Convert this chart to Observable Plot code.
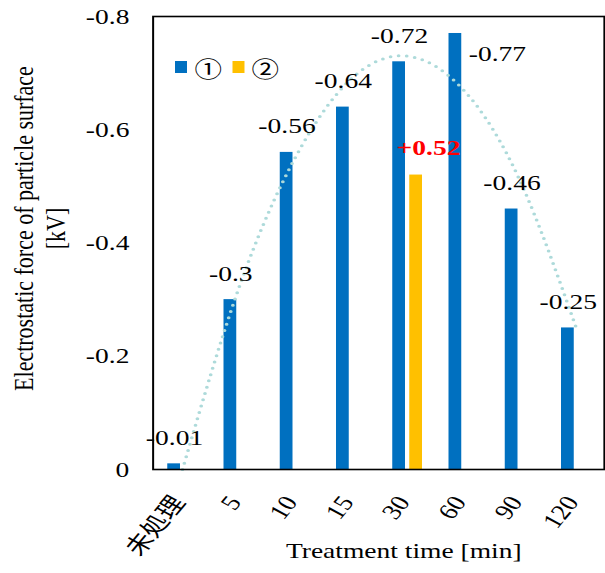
<!DOCTYPE html>
<html><head><meta charset="utf-8">
<script src="https://cdn.jsdelivr.net/npm/d3@7"></script>
<script src="https://cdn.jsdelivr.net/npm/@observablehq/plot@0.6"></script>
<style>
body{margin:0;background:#fff;}
#outer{width:605px;height:573px;overflow:hidden;}
#wrap{position:relative;width:484px;height:573px;transform:scaleX(1.25);transform-origin:0 0;}
#legend{position:absolute;left:140px;top:50px;}
#legend .lg-swatch{margin-right:8px !important;}
#legend .lg-swatch > svg{margin-right:6px !important;}
</style></head><body><div id="outer"><div id="wrap"></div></div>
<script>
const categories = ["未処理","5","10","15","30","60","90","120"];
const seriesNames = ["①","②"];
const seriesColors = ["#0070C0","#FFC000"];
const series1 = [-0.01,-0.3,-0.56,-0.64,-0.72,-0.77,-0.46,-0.25];
const series1Labels = ["-0.01","-0.3","-0.56","-0.64","-0.72","-0.77","-0.46","-0.25"];
const series2Categories = ["30"];
const series2 = [-0.52];
const series2Labels = ["+0.52"];
const trendValues = [0,-0.32,-0.55,-0.69,-0.73,-0.67,-0.51,-0.25];
const yTicks = [0,-0.2,-0.4,-0.6,-0.8];
const yTitle = "Electrostatic force of particle surface\n[kV]";
const xTitle = "Treatment time [min]";

const font = "'Liberation Serif','Noto Sans CJK JP',serif";
const s1 = categories.map((c,i)=>({cat:c, v:series1[i], label:series1Labels[i], s:seriesNames[0]}));
const s2 = series2Categories.map((c,i)=>({cat:c, v:series2[i], label:series2Labels[i], s:seriesNames[1]}));
const trend = categories.map((c,i)=>({cat:c, v:trendValues[i]}));

const plot = Plot.plot({
  width:484, height:573,
  marginLeft:122, marginRight:1, marginTop:16, marginBottom:104,
  style:{fontFamily:font, fontSize:"22px", color:"#000", background:"white", overflow:"visible"},
  x:{domain:categories, padding:0},
  y:{domain:[0,-0.8]},
  color:{domain:seriesNames, range:seriesColors},
  marks:[
    Plot.barY(s1,{x:"cat", y:"v", fill:"s", insetLeft:10.8, insetRight:24}),
    Plot.barY(s2,{x:"cat", y:"v", fill:"s", insetLeft:24.4, insetRight:10.4}),
    Plot.line(trend,{x:"cat", y:"v", curve:"natural", stroke:"#addada", strokeWidth:3, strokeDasharray:"0 6.5", strokeLinecap:"round"}),
    Plot.text(s1.filter(d=>d.cat!=="60"),{x:"cat", y:"v", text:"label", dx:-6.4, dy:-26, fontSize:22, fill:"#000"}),
    Plot.text(s1.filter(d=>d.cat==="60"),{x:"cat", y:"v", text:"label", dx:4, dy:20, textAnchor:"start", fontSize:22, fill:"#000"}),
    Plot.text(s2,{x:"cat", y:"v", text:"label", dx:16.8, dy:-27, fontSize:22, fontWeight:"bold", fill:"#FF0000"}),
    Plot.axisY({ticks:yTicks, tickSize:0, tickPadding:19, tickFormat:d=>d===0?"0":String(d), label:null, fontSize:22}),
    Plot.axisX({tickSize:0, tickRotate:-56, tickPadding:29, dx:-3, label:null, fontSize:22}),
    Plot.frame({stroke:"black", strokeWidth:1.6}),
    Plot.text([yTitle],{frameAnchor:"left", textAnchor:"middle", lineAnchor:"middle", rotate:-90, dx:-91.6, dy:-14.5, lineHeight:1.15, fontSize:22, fill:"#000"}),
    Plot.text([xTitle],{frameAnchor:"bottom", textAnchor:"middle", dx:20, dy:88, fontSize:22, fill:"#000"})
  ]
});
const wrap = document.getElementById("wrap");
wrap.appendChild(plot);
const leg = plot.legend("color",{legend:"swatches", swatchWidth:9.6, swatchHeight:12, className:"lg", style:{fontSize:"22px", fontFamily:font, color:"#000", margin:"0"}});
leg.id = "legend";
wrap.appendChild(leg);
</script></body></html>
